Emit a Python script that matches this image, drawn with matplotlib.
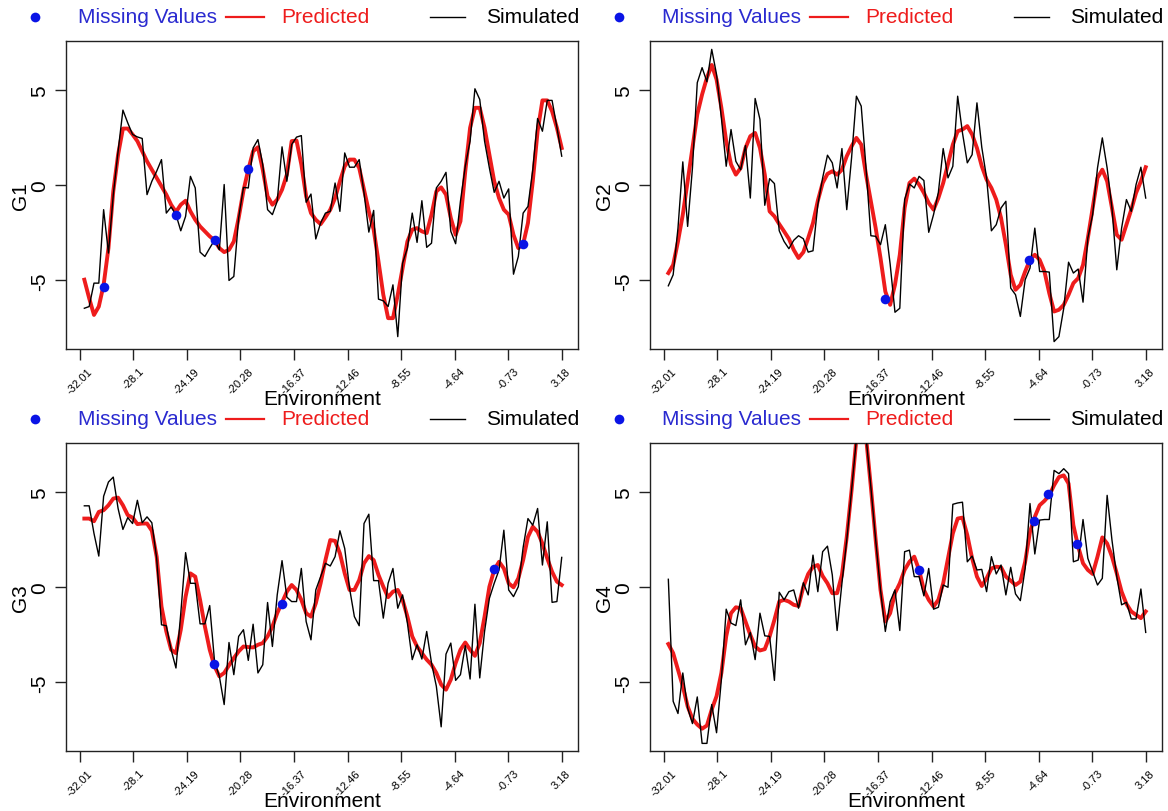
import numpy as np
import matplotlib
matplotlib.use("Agg")
import matplotlib.pyplot as plt

plt.rcParams['font.family'] = ['Liberation Sans', 'DejaVu Sans']

# environments (evenly spaced, first/last)
env_first, env_last, n_env = -31.69, 3.19, 100
tick_vals = [-32.01, -28.1, -24.19, -20.28, -16.37, -12.46, -8.55, -4.64, -0.73, 3.18]
tick_labels = ["-32.01", "-28.1", "-24.19", "-20.28", "-16.37", "-12.46", "-8.55", "-4.64", "-0.73", "3.18"]

g1_sim = [-6.46, -6.37, -5.14, -5.14, -1.28, -3.56, -0.5, 1.79, 3.95, 3.28,
          2.67, 2.54, 2.46, -0.49, 0.21, 0.74, 1.35, -1.46, -1.14, -1.54,
          -2.39, -1.63, 0.47, -0.14, -3.51, -3.74, -3.30, -2.88, -3.39, 0.04,
          -5.0, -4.79, -1.72, -0.11, -0.14, 1.96, 2.40, 1.09, -1.28, -1.54,
          -0.84, 2.02, 0.21, 2.14, 2.53, 2.61, -0.89, -0.46, -2.82, -1.98,
          -1.46, -1.37, 0.12, -1.37, 1.70, 0.95, 0.95, 1.35, -0.40, -2.46,
          -1.32, -5.98, -6.07, -6.37, -5.23, -7.95, -4.09, -3.30, -1.46, -3.0,
          -0.81, -3.26, -3.04, -0.14, 0.21, 0.68, -2.42, -3.07, -0.84, 1.0,
          2.32, 5.07, 4.51, 2.32, 0.91, -0.37, 0.21, -0.67, -0.19, -4.67,
          -3.74, -1.46, -1.11, 0.82, 3.51, 2.84, 4.46, 4.46, 3.05, 1.53]
g1_pred = [-4.96, -5.93, -6.81, -6.37, -5.23, -3.30, -0.32, 1.61, 2.98, 2.98,
           2.67, 2.32, 1.79, 1.26, 0.82, 0.39, -0.05, -0.49, -1.02, -1.40,
           -1.02, -0.81, -1.37, -1.81, -2.16, -2.42, -2.68, -2.89, -3.30, -3.51,
           -3.39, -2.95, -1.72, -0.28, 0.82, 1.79, 2.0, 0.82, -0.58, -1.02,
           -0.75, -0.23, 0.56, 2.32, 2.35, 1.09, -0.58, -1.46, -1.81, -2.04,
           -1.68, -1.28, -0.67, 0.21, 1.0, 1.35, 1.35, 0.91, -0.23, -1.37,
           -2.33, -4.0, -5.75, -6.98, -6.98, -5.75, -4.35, -2.95, -2.33, -2.25,
           -2.42, -2.51, -1.54, -0.32, -0.11, -0.49, -1.72, -2.60, -1.89, 0.74,
           3.02, 4.07, 4.07, 3.02, 1.61, 0.21, -0.67, -1.28, -1.54, -2.60,
           -3.30, -3.09, -1.98, 0.21, 2.84, 4.46, 4.46, 3.89, 3.02, 1.96]
g1_miss_x = [-30.23, -24.99, -22.16, -19.70, 0.34]
g1_miss_y = [-5.32, -1.58, -2.88, 0.86, -3.09]

g2_sim = [-5.28, -4.70, -2.25, 1.23, -2.16, 0.91, 5.39, 6.18, 5.44, 7.14,
          5.82, 3.54, 1.0, 2.93, 1.26, 0.82, 2.09, -0.67, 4.56, 3.46,
          -1.05, 0.35, 0.09, -2.39, -2.95, -3.33, -2.89, -2.65, -2.81, -3.51,
          -3.44, -1.02, 0.39, 1.58, 1.18, -0.14, 1.93, -1.28, 1.44, 4.68,
          4.16, 0.91, -2.65, -2.68, -3.12, -2.07, -4.14, -6.67, -6.46, -0.75,
          0.07, -0.14, 0.47, 0.25, -2.47, -1.54, -0.37, 1.93, 0.39, 1.0,
          4.68, 2.75, 1.18, 1.61, 4.33, 2.0, 0.39, -2.39, -2.07, -1.19,
          -0.84, -5.40, -5.75, -6.89, -4.96, -4.35, -2.25, -4.53, -4.53, -4.56,
          -8.21, -7.95, -6.46, -4.04, -4.61, -4.40, -6.14, -2.77, -1.54, 0.91,
          2.49, 0.91, -1.19, -4.44, -2.25, -0.75, -1.37, 0.04, 0.95, -0.67]
g2_pred = [-4.61, -4.18, -2.95, -1.54, 0.21, 1.96, 3.72, 4.77, 5.65, 6.32,
           5.56, 4.07, 2.32, 1.09, 0.56, 0.91, 1.96, 2.58, 2.75, 1.96,
           0.56, -1.37, -1.63, -2.04, -2.42, -2.81, -3.39, -3.82, -3.51, -2.77,
           -1.98, -0.81, 0.12, 0.60, 0.74, 0.56, 0.82, 1.53, 2.05, 2.49,
           2.14, 0.56, -0.84, -2.25, -3.82, -5.58, -6.28, -5.23, -3.65, -1.19,
           0.12, 0.35, 0.04, -0.40, -0.93, -1.28, -0.67, 0.12, 1.12, 2.14,
           2.84, 2.93, 3.11, 2.67, 1.96, 1.0, 0.30, -0.14, -0.75, -1.72,
           -3.12, -4.70, -5.49, -5.23, -4.53, -3.91, -3.65, -3.91, -4.53, -5.67,
           -6.63, -6.54, -6.28, -5.75, -5.14, -4.88, -4.18, -2.77, -1.19, 0.39,
           0.82, 0.21, -1.19, -2.60, -2.86, -2.07, -1.28, -0.40, 0.21, 0.95]
g2_miss_x = [-15.85, -5.32]
g2_miss_y = [-5.98, -3.93]

g3_sim = [4.28, 4.28, 2.83, 1.64, 4.78, 5.53, 5.79, 4.14, 3.04, 3.66,
          3.35, 4.57, 3.39, 3.70, 3.39, 1.52, -1.97, -2.02, -3.28, -4.24,
          -1.36, 1.82, 0.21, 0.21, -1.92, -1.92, -0.96, -3.89, -4.68, -6.16,
          -2.90, -4.59, -2.58, -2.23, -3.84, -1.94, -4.50, -4.07, -0.80, -3.11,
          -0.40, 1.40, -0.52, -0.75, -0.75, 0.99, -1.80, -2.76, -0.14, 0.56,
          1.26, 1.12, 1.61, 2.97, 2.04, -0.05, -1.54, -2.02, 3.35, 3.84,
          0.35, 0.35, -1.62, 0.21, 0.99, -1.10, -0.40, -1.88, -3.80, -3.02,
          -3.77, -2.32, -3.98, -5.20, -7.33, -3.51, -2.93, -4.89, -4.59, -3.07,
          -4.82, -0.89, -4.76, -2.32, -0.58, 0.21, 0.91, 3.00, -0.14, -0.49,
          0.03, 2.09, 3.61, 3.26, 4.14, 1.17, 3.44, -0.79, -0.75, 1.57]
g3_pred = [3.61, 3.61, 3.47, 3.96, 4.05, 4.31, 4.66, 4.71, 4.31, 3.79,
           3.66, 3.32, 3.35, 3.35, 2.97, 1.61, -1.01, -2.32, -3.28, -3.46,
           -2.23, -0.49, 0.73, 0.56, -0.66, -2.06, -3.28, -4.15, -4.68, -4.50,
           -4.10, -3.72, -3.37, -3.11, -3.14, -3.16, -3.02, -2.93, -2.58, -2.06,
           -1.36, -0.80, -0.23, 0.12, -0.14, -0.66, -1.36, -1.54, -0.84, 0.21,
           1.43, 2.48, 2.44, 1.78, 0.73, -0.14, -0.14, 0.38, 1.26, 1.64,
           1.43, 0.65, 0.03, -0.52, -0.23, -0.14, -0.66, -1.54, -2.58, -3.11,
           -3.46, -3.80, -4.07, -4.50, -5.11, -5.38, -4.85, -3.98, -3.28, -2.90,
           -3.28, -3.60, -2.93, -1.54, 0.03, 0.91, 1.34, 0.99, 0.21, 0.0,
           0.47, 1.43, 2.65, 3.18, 2.91, 2.30, 1.52, 0.82, 0.30, 0.12]
g3_miss_x = [-22.19, -17.24, -1.78]
g3_miss_y = [-4.03, -0.87, 0.94]

g4_sim = [0.42, -5.99, -6.63, -4.50, -6.34, -7.16, -5.76, -8.20, -8.20, -6.16,
          -7.64, -4.85, -1.15, -1.88, -2.01, -0.66, -3.02, -2.37, -3.80, -1.36,
          -2.55, -2.58, -4.89, -0.26, -0.66, -0.23, -0.14, -1.10, 0.24, -0.40,
          1.69, -0.23, 1.87, 2.16, 0.65, -2.27, 0.21, 2.48, 5.10, 7.8,
          10.0, 7.9, 5.27, 2.48, -0.14, -2.32, -0.75, -0.14, -2.27, 1.87,
          1.95, 0.56, 0.56, -0.45, 0.99, -1.15, -1.05, 0.12, 0.0, 4.36,
          4.43, 4.47, 1.34, 1.64, 0.91, 0.94, -0.23, 1.61, 0.70, 1.17,
          -0.40, 1.05, -0.35, -0.70, 0.99, 4.40, 1.75, 3.53, 3.56, 3.56,
          6.14, 5.97, 6.23, 5.97, 1.34, 1.43, 3.56, 1.52, 0.82, 0.12,
          0.47, 4.83, 2.48, 0.56, -0.92, -0.79, -1.66, -1.66, -0.09, -2.37]
g4_pred = [-2.98, -3.46, -4.33, -5.20, -6.25, -6.91, -7.21, -7.43, -7.26, -6.42,
           -5.72, -4.50, -2.58, -1.36, -1.05, -1.10, -1.80, -2.50, -3.11, -3.32,
           -3.25, -2.58, -1.71, -0.75, -0.66, -0.75, -0.92, -0.98, 0.03, 0.70,
           1.08, 1.17, 0.59, 0.21, -0.31, -0.31, 0.65, 2.65, 5.10, 7.8,
           10.0, 7.9, 5.27, 2.48, -0.14, -1.80, -1.36, -0.31, 0.21, 0.91,
           1.34, 1.61, 0.91, -0.14, -0.66, -1.01, -0.66, 0.21, 1.52, 2.83,
           3.61, 3.66, 2.74, 1.52, 0.56, 0.07, 0.47, 0.99, 1.08, 1.05,
           0.56, 0.35, 0.12, 0.30, 1.34, 2.91, 3.70, 4.31, 4.54, 4.83,
           5.36, 5.79, 5.88, 5.45, 3.26, 2.13, 1.26, 0.91, 0.70, 1.61,
           2.62, 2.30, 1.61, 0.73, -0.23, -0.87, -1.27, -1.45, -1.62, -1.27]
g4_miss_x = [-13.39, -4.95, -3.93, -1.81]
g4_miss_y = [0.91, 3.47, 4.89, 2.30]

panels = [
    ("G1", g1_sim, g1_pred, g1_miss_x, g1_miss_y, 66, 42),
    ("G2", g2_sim, g2_pred, g2_miss_x, g2_miss_y, 650, 42),
    ("G3", g3_sim, g3_pred, g3_miss_x, g3_miss_y, 66, 444),
    ("G4", g4_sim, g4_pred, g4_miss_x, g4_miss_y, 650, 444),
]

W, H = 1168, 812
RED = "#ee1c1c"
BLUE = "#0a14e6"
BLUE_TXT = "#2a2ad0"

fig = plt.figure(figsize=(W / 100, H / 100), dpi=100)
env = np.linspace(env_first, env_last, n_env)

for name, sim, pred, mx, my, left, top in panels:
    ax = fig.add_axes([left / W, 1 - (top + 308) / H, 512 / W, 308 / H])
    ax.plot(env, pred, color=RED, lw=2.8, solid_joinstyle="round", zorder=2)
    ax.plot(env, sim, color="black", lw=1.0, zorder=3)
    ax.scatter(mx, my, s=48, color=BLUE, zorder=4, linewidths=0)

    ax.set_xlim(-33.03, 4.38)
    ax.set_ylim(-8.6, 7.58)
    ax.set_xticks(tick_vals)
    ax.set_xticklabels(tick_labels, rotation=45, ha="center", va="top", fontsize=8)
    ax.set_yticks([-5, 0, 5])
    ax.set_yticklabels(["-5", "0", "5"], rotation=90, va="center", fontsize=15)
    ax.tick_params(axis="both", length=8, width=1.0, color="#222222")
    ax.tick_params(axis="x", pad=4)
    ax.tick_params(axis="y", pad=4)
    for sp in ax.spines.values():
        sp.set_color("#222222")
        sp.set_linewidth(1.0)

    ax.set_xlabel("Environment", fontsize=15)
    ax.xaxis.set_label_coords(0.5, -0.13)
    ax.set_ylabel(name, fontsize=15)
    ax.yaxis.set_label_coords(-0.07, 0.5)

    # horizontal legend above the panel
    ly = 1.078
    tr = ax.transAxes
    ax.plot([-0.06], [ly], "o", color=BLUE, ms=7, mec="none", transform=tr, clip_on=False)
    ax.text(0.023, ly, "Missing Values", color=BLUE_TXT, fontsize=15, va="center", transform=tr)
    ax.plot([0.312, 0.386], [ly, ly], color=RED, lw=1.6, transform=tr, clip_on=False)
    ax.text(0.421, ly, "Predicted", color=RED, fontsize=15, va="center", transform=tr)
    ax.plot([0.71, 0.78], [ly, ly], color="black", lw=1.0, transform=tr, clip_on=False)
    ax.text(0.82, ly, "Simulated", color="black", fontsize=15, va="center", transform=tr)

fig.savefig("out.png", dpi=100)
